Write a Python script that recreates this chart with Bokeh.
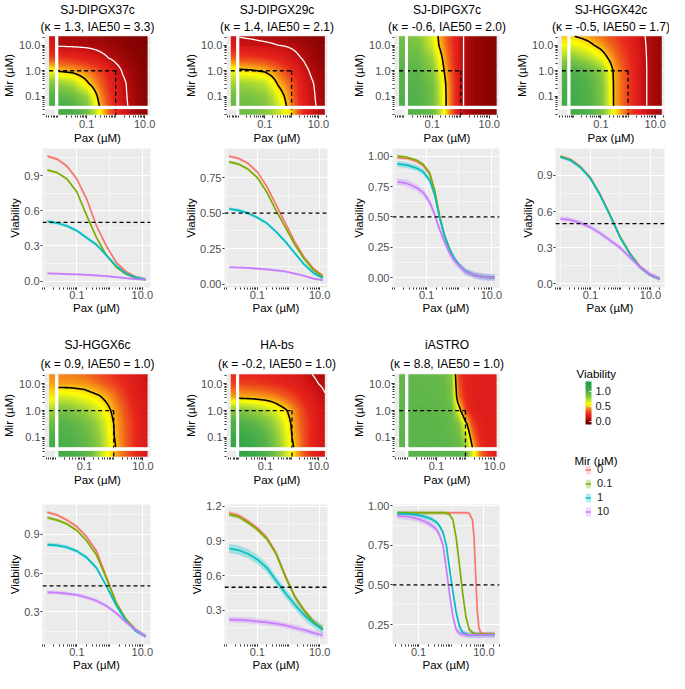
import numpy as np
from bokeh.plotting import figure
from bokeh.models import (FixedTicker, Span, Title, LinearColorMapper, ColorBar,
                          Legend, LegendItem, Label, CustomJSTickFormatter)
from bokeh.layouts import row, column
from bokeh.embed import file_html
from bokeh.resources import INLINE

# ---------------------------------------------------------------- data
cell_lines = ["SJ-DIPGX37c", "SJ-DIPGX29c", "SJ-DIPGX7c", "SJ-HGGX42c",
              "SJ-HGGX6c", "HA-bs", "iASTRO"]
kappa = [1.3, 1.4, -0.6, -0.5, 0.9, -0.2, 8.8]
iae50 = [3.3, 2.1, 2.0, 1.7, 1.0, 1.0, 1.0]
mir_levels = ["0", "0.1", "1", "10"]
ref_pax = 1.0
ref_mir = 1.0
viability_threshold = 0.5
white_level = 0.1
colorbar_ticks = [0.0, 0.5, 1.0]

# heatmap grid (log10 Pax columns, log10 Mir rows bottom->top)
hm_pax_log = [-2.0, -1.5, -1.0, -0.75, -0.5, -0.25, 0.0, 0.25, 0.5, 0.75, 1.0, 1.3]
hm_mir_log = [-1.36, -1.0, -0.5, 0.0, 0.5, 1.0, 1.36]

hm_extent = [[-1.98, 1.10], [-1.96, 1.24], [-1.85, 1.26], [-2.13, 1.24],
             [-1.90, 1.16], [-2.00, 1.24], [-1.97, 1.07]]

hm_p1 = [[1.03, 0.98, 0.84, 0.65, 0.45, 0.32, 0.21, 0.13, 0.085, 0.05, 0.03, 0.015],
         [0.95, 0.9, 0.76, 0.58, 0.41, 0.3, 0.2, 0.125, 0.08, 0.05, 0.03, 0.015],
         [0.78, 0.72, 0.53, 0.44, 0.35, 0.26, 0.18, 0.12, 0.075, 0.045, 0.028, 0.015],
         [0.49, 0.46, 0.4, 0.35, 0.29, 0.21, 0.14, 0.09, 0.06, 0.04, 0.025, 0.015],
         [0.27, 0.25, 0.2, 0.165, 0.13, 0.1, 0.075, 0.055, 0.04, 0.028, 0.018, 0.01],
         [0.085, 0.08, 0.075, 0.07, 0.063, 0.055, 0.045, 0.035, 0.025, 0.018, 0.012, 0.006],
         [0.075, 0.07, 0.062, 0.056, 0.05, 0.042, 0.035, 0.027, 0.02, 0.014, 0.01, 0.005]]
hm_pax0_p1 = [1.05, 0.97, 0.82, 0.58, 0.3, 0.15, 0.12]
hm_mir0_p1 = [1.07, 1.02, 0.88, 0.72, 0.53, 0.37, 0.25, 0.15, 0.1, 0.06, 0.035, 0.02]

hm_p2 = [[0.9, 0.88, 0.83, 0.76, 0.67, 0.53, 0.4, 0.28, 0.18, 0.125, 0.085, 0.05],
         [0.87, 0.85, 0.8, 0.72, 0.6, 0.49, 0.38, 0.26, 0.17, 0.12, 0.08, 0.05],
         [0.76, 0.74, 0.69, 0.6, 0.48, 0.41, 0.34, 0.24, 0.15, 0.11, 0.075, 0.05],
         [0.53, 0.515, 0.48, 0.43, 0.38, 0.31, 0.25, 0.18, 0.12, 0.085, 0.06, 0.04],
         [0.3, 0.29, 0.26, 0.235, 0.21, 0.175, 0.14, 0.11, 0.085, 0.06, 0.045, 0.03],
         [0.125, 0.12, 0.113, 0.108, 0.1, 0.093, 0.085, 0.073, 0.06, 0.047, 0.035, 0.025],
         [0.097, 0.09, 0.08, 0.074, 0.068, 0.061, 0.055, 0.048, 0.04, 0.034, 0.028, 0.02]]
hm_pax0_p2 = [0.92, 0.88, 0.75, 0.6, 0.35, 0.17, 0.13]
hm_mir0_p2 = [0.9, 0.88, 0.82, 0.76, 0.69, 0.6, 0.5, 0.34, 0.22, 0.15, 0.1, 0.06]

hm_p3 = [[1.0, 0.98, 0.88, 0.7, 0.49, 0.3, 0.12, 0.07, 0.045, 0.035, 0.025, 0.02],
         [1.0, 0.98, 0.88, 0.7, 0.49, 0.3, 0.12, 0.07, 0.045, 0.035, 0.025, 0.02],
         [0.98, 0.96, 0.86, 0.68, 0.48, 0.29, 0.12, 0.07, 0.045, 0.035, 0.025, 0.02],
         [0.96, 0.94, 0.82, 0.63, 0.44, 0.28, 0.12, 0.07, 0.045, 0.035, 0.025, 0.02],
         [0.92, 0.9, 0.76, 0.57, 0.4, 0.26, 0.12, 0.07, 0.045, 0.035, 0.025, 0.02],
         [0.88, 0.85, 0.66, 0.49, 0.37, 0.25, 0.12, 0.07, 0.045, 0.035, 0.025, 0.02],
         [0.85, 0.82, 0.64, 0.47, 0.35, 0.24, 0.12, 0.07, 0.045, 0.035, 0.025, 0.02]]
hm_pax0_p3 = [1.0, 1.0, 0.98, 0.97, 0.93, 0.9, 0.88]
hm_mir0_p3 = [1.0, 0.98, 0.9, 0.72, 0.5, 0.3, 0.12, 0.07, 0.045, 0.035, 0.025, 0.02]

hm_p4 = [[1.06, 1.0, 0.86, 0.68, 0.47, 0.38, 0.3, 0.22, 0.13, 0.09, 0.06, 0.045],
         [1.05, 0.99, 0.85, 0.67, 0.47, 0.38, 0.3, 0.22, 0.13, 0.09, 0.06, 0.045],
         [1.04, 0.98, 0.84, 0.66, 0.47, 0.38, 0.3, 0.22, 0.13, 0.09, 0.06, 0.045],
         [1.0, 0.93, 0.8, 0.64, 0.46, 0.37, 0.29, 0.21, 0.13, 0.09, 0.06, 0.045],
         [0.8, 0.72, 0.6, 0.5, 0.4, 0.33, 0.27, 0.2, 0.125, 0.09, 0.06, 0.045],
         [0.62, 0.55, 0.45, 0.39, 0.34, 0.29, 0.24, 0.18, 0.12, 0.088, 0.06, 0.045],
         [0.5, 0.45, 0.38, 0.34, 0.3, 0.26, 0.22, 0.17, 0.115, 0.085, 0.06, 0.045]]
hm_pax0_p4 = [1.06, 1.05, 1.02, 0.95, 0.75, 0.58, 0.5]
hm_mir0_p4 = [1.06, 1.0, 0.88, 0.72, 0.55, 0.44, 0.33, 0.25, 0.18, 0.12, 0.08, 0.05]

hm_p5 = [[1.04, 1.01, 0.94, 0.88, 0.8, 0.68, 0.53, 0.42, 0.33, 0.25, 0.19, 0.14],
         [1.02, 0.99, 0.92, 0.86, 0.78, 0.66, 0.51, 0.41, 0.33, 0.25, 0.19, 0.14],
         [0.98, 0.95, 0.88, 0.82, 0.74, 0.63, 0.5, 0.4, 0.32, 0.25, 0.19, 0.14],
         [0.88, 0.84, 0.76, 0.71, 0.64, 0.56, 0.46, 0.38, 0.3, 0.23, 0.18, 0.14],
         [0.66, 0.64, 0.59, 0.555, 0.52, 0.46, 0.4, 0.33, 0.26, 0.21, 0.17, 0.13],
         [0.44, 0.44, 0.43, 0.4, 0.37, 0.335, 0.3, 0.26, 0.22, 0.185, 0.15, 0.12],
         [0.41, 0.4, 0.37, 0.345, 0.32, 0.29, 0.26, 0.23, 0.2, 0.17, 0.14, 0.11]]
hm_pax0_p5 = [1.05, 1.02, 0.9, 0.75, 0.55, 0.45, 0.42]
hm_mir0_p5 = [1.06, 1.03, 0.96, 0.88, 0.72, 0.6, 0.48, 0.4, 0.33, 0.25, 0.19, 0.14]

hm_p6 = [[1.13, 1.08, 0.98, 0.89, 0.78, 0.66, 0.53, 0.41, 0.31, 0.23, 0.17, 0.13],
         [1.1, 1.05, 0.95, 0.86, 0.76, 0.64, 0.5, 0.4, 0.31, 0.23, 0.17, 0.13],
         [1.0, 0.95, 0.86, 0.79, 0.7, 0.6, 0.48, 0.38, 0.3, 0.23, 0.17, 0.13],
         [0.82, 0.78, 0.7, 0.65, 0.58, 0.52, 0.44, 0.36, 0.28, 0.21, 0.16, 0.12],
         [0.47, 0.46, 0.44, 0.42, 0.39, 0.35, 0.31, 0.26, 0.21, 0.165, 0.13, 0.1],
         [0.3, 0.29, 0.27, 0.255, 0.24, 0.22, 0.2, 0.175, 0.15, 0.125, 0.1, 0.085],
         [0.24, 0.235, 0.22, 0.21, 0.2, 0.185, 0.17, 0.15, 0.12, 0.1, 0.08, 0.07]]
hm_pax0_p6 = [1.12, 1.08, 1.0, 0.8, 0.45, 0.3, 0.25]
hm_mir0_p6 = [1.15, 1.1, 1.0, 0.9, 0.8, 0.68, 0.55, 0.43, 0.32, 0.24, 0.18, 0.13]

hm_p7 = [[0.955, 0.955, 0.95, 0.95, 0.94, 0.92, 0.8, 0.48, 0.27, 0.21, 0.19, 0.19],
         [0.95, 0.95, 0.95, 0.945, 0.935, 0.9, 0.7, 0.4, 0.24, 0.2, 0.19, 0.19],
         [0.95, 0.95, 0.945, 0.94, 0.92, 0.85, 0.55, 0.3, 0.21, 0.19, 0.19, 0.19],
         [0.945, 0.945, 0.94, 0.93, 0.9, 0.6, 0.3, 0.21, 0.19, 0.19, 0.19, 0.19],
         [0.94, 0.94, 0.93, 0.92, 0.86, 0.4, 0.24, 0.2, 0.19, 0.19, 0.19, 0.19],
         [0.935, 0.935, 0.925, 0.91, 0.84, 0.34, 0.23, 0.2, 0.19, 0.19, 0.19, 0.19],
         [0.93, 0.93, 0.92, 0.9, 0.82, 0.3, 0.22, 0.2, 0.19, 0.19, 0.19, 0.19]]
hm_pax0_p7 = [0.955, 0.955, 0.95, 0.945, 0.94, 0.935, 0.93]
hm_mir0_p7 = [0.955, 0.955, 0.955, 0.955, 0.955, 0.955, 0.9, 0.62, 0.4, 0.28, 0.2, 0.19]

# dose-response curves (log10 Pax, viability per Mir level)
pax_grid_a = [-1.9, -1.6, -1.3, -1.0, -0.7, -0.4, -0.1, 0.2, 0.5, 0.8, 1.1]

p1_mir0 = [1.065, 1.04, 0.98, 0.87, 0.7, 0.47, 0.3, 0.16, 0.08, 0.035, 0.015]
p1_mir01 = [0.947, 0.925, 0.87, 0.76, 0.56, 0.37, 0.22, 0.12, 0.06, 0.028, 0.012]
p1_mir1 = [0.51, 0.495, 0.47, 0.43, 0.37, 0.31, 0.22, 0.13, 0.065, 0.03, 0.014]
p1_mir10 = [0.065, 0.063, 0.06, 0.057, 0.053, 0.048, 0.042, 0.034, 0.025, 0.017, 0.012]
p1_band = [0.012, 0.01, 0.015, 0.008]

p2_mir0 = [0.90, 0.885, 0.85, 0.79, 0.69, 0.56, 0.43, 0.30, 0.19, 0.11, 0.06]
p2_mir01 = [0.86, 0.845, 0.81, 0.75, 0.65, 0.52, 0.40, 0.28, 0.18, 0.10, 0.055]
p2_mir1 = [0.53, 0.52, 0.50, 0.47, 0.43, 0.37, 0.30, 0.22, 0.14, 0.08, 0.045]
p2_mir10 = [0.12, 0.118, 0.115, 0.11, 0.105, 0.098, 0.09, 0.075, 0.06, 0.04, 0.03]
p2_band = [0.01, 0.01, 0.012, 0.008]

p3_pax = [-1.9, -1.6, -1.3, -1.1, -0.9, -0.75, -0.6, -0.45, -0.3, -0.15, 0.0, 0.2, 0.5, 0.8, 1.1]
p3_mir0 = [0.985, 0.98, 0.955, 0.92, 0.85, 0.71, 0.5, 0.35, 0.24, 0.16, 0.105, 0.055, 0.02, 0.007, 0.003]
p3_mir01 = [1.0, 0.99, 0.965, 0.93, 0.86, 0.72, 0.51, 0.35, 0.24, 0.16, 0.105, 0.055, 0.02, 0.007, 0.003]
p3_mir1 = [0.935, 0.925, 0.9, 0.87, 0.8, 0.68, 0.5, 0.35, 0.24, 0.16, 0.105, 0.055, 0.02, 0.007, 0.003]
p3_mir10 = [0.79, 0.775, 0.74, 0.7, 0.62, 0.52, 0.4, 0.3, 0.21, 0.145, 0.1, 0.05, 0.02, 0.007, 0.003]
p3_band = [0.01, 0.01, 0.025, 0.03]

p4_pax = [-2.0, -1.67, -1.34, -1.01, -0.68, -0.35, -0.02, 0.31, 0.64, 0.97, 1.3]
p4_mir0 = [1.06, 1.035, 0.975, 0.885, 0.745, 0.575, 0.395, 0.255, 0.145, 0.078, 0.042]
p4_mir01 = [1.057, 1.03, 0.97, 0.88, 0.74, 0.57, 0.39, 0.25, 0.14, 0.075, 0.04]
p4_mir1 = [1.054, 1.027, 0.967, 0.877, 0.737, 0.567, 0.387, 0.247, 0.138, 0.074, 0.04]
p4_mir10 = [0.54, 0.53, 0.505, 0.47, 0.42, 0.36, 0.3, 0.22, 0.14, 0.08, 0.04]
p4_band = [0.012, 0.012, 0.012, 0.02]

p5_mir0 = [1.07, 1.05, 1.01, 0.96, 0.88, 0.77, 0.57, 0.37, 0.24, 0.16, 0.11]
p5_mir01 = [1.03, 1.01, 0.98, 0.93, 0.85, 0.74, 0.56, 0.37, 0.24, 0.16, 0.11]
p5_mir1 = [0.82, 0.815, 0.8, 0.77, 0.72, 0.64, 0.5, 0.35, 0.23, 0.15, 0.11]
p5_mir10 = [0.45, 0.448, 0.44, 0.43, 0.41, 0.385, 0.345, 0.29, 0.22, 0.16, 0.11]
p5_band = [0.012, 0.012, 0.015, 0.015]

p6_mir0 = [1.14, 1.12, 1.07, 1.01, 0.93, 0.8, 0.6, 0.42, 0.3, 0.2, 0.14]
p6_mir01 = [1.13, 1.11, 1.06, 1.0, 0.92, 0.79, 0.59, 0.42, 0.3, 0.2, 0.14]
p6_mir1 = [0.835, 0.82, 0.79, 0.74, 0.67, 0.56, 0.45, 0.35, 0.26, 0.19, 0.135]
p6_mir10 = [0.22, 0.218, 0.213, 0.205, 0.196, 0.185, 0.17, 0.15, 0.13, 0.105, 0.085]
p6_band = [0.02, 0.02, 0.04, 0.025]

p7_pax = [-1.65, -1.3, -1.0, -0.8, -0.6, -0.45, -0.35, -0.25, -0.15, -0.05, 0.05, 0.15,
          0.25, 0.35, 0.45, 0.55, 0.65, 0.7, 0.75, 0.8, 0.85, 0.9, 1.0, 1.15, 1.33]
p7_mir0 = [0.955, 0.955, 0.955, 0.955, 0.955, 0.955, 0.955, 0.955, 0.955, 0.955, 0.955, 0.955,
           0.955, 0.955, 0.955, 0.952, 0.91, 0.8, 0.56, 0.33, 0.23, 0.2, 0.19, 0.19, 0.19]
p7_mir01 = [0.955, 0.955, 0.955, 0.955, 0.955, 0.955, 0.955, 0.955, 0.953, 0.945, 0.91, 0.8,
            0.63, 0.45, 0.3, 0.22, 0.2, 0.195, 0.19, 0.19, 0.19, 0.19, 0.19, 0.19, 0.19]
p7_mir1 = [0.95, 0.948, 0.94, 0.93, 0.915, 0.895, 0.87, 0.83, 0.75, 0.6, 0.46, 0.33,
           0.24, 0.2, 0.19, 0.185, 0.185, 0.185, 0.185, 0.185, 0.185, 0.185, 0.185, 0.185, 0.185]
p7_mir10 = [0.935, 0.93, 0.915, 0.9, 0.875, 0.85, 0.81, 0.75, 0.6, 0.44, 0.3, 0.22,
            0.195, 0.19, 0.185, 0.185, 0.185, 0.185, 0.185, 0.185, 0.185, 0.185, 0.185, 0.185, 0.185]
p7_band = [0.01, 0.012, 0.015, 0.02]

y_ticks = [[0.0, 0.3, 0.6, 0.9], [0.0, 0.25, 0.5, 0.75], [0.0, 0.25, 0.5, 0.75, 1.0],
           [0.0, 0.3, 0.6, 0.9], [0.3, 0.6, 0.9], [0.3, 0.6, 0.9, 1.2], [0.25, 0.5, 0.75, 1.0]]
y_decimals = [1, 2, 2, 1, 1, 1, 2]

panels = [
    dict(hm=hm_p1, pax0=hm_pax0_p1, mir0=hm_mir0_p1, cv_pax=pax_grid_a,
         cv=[p1_mir0, p1_mir01, p1_mir1, p1_mir10], band=p1_band),
    dict(hm=hm_p2, pax0=hm_pax0_p2, mir0=hm_mir0_p2, cv_pax=pax_grid_a,
         cv=[p2_mir0, p2_mir01, p2_mir1, p2_mir10], band=p2_band),
    dict(hm=hm_p3, pax0=hm_pax0_p3, mir0=hm_mir0_p3, cv_pax=p3_pax,
         cv=[p3_mir0, p3_mir01, p3_mir1, p3_mir10], band=p3_band),
    dict(hm=hm_p4, pax0=hm_pax0_p4, mir0=hm_mir0_p4, cv_pax=p4_pax,
         cv=[p4_mir0, p4_mir01, p4_mir1, p4_mir10], band=p4_band),
    dict(hm=hm_p5, pax0=hm_pax0_p5, mir0=hm_mir0_p5, cv_pax=pax_grid_a,
         cv=[p5_mir0, p5_mir01, p5_mir1, p5_mir10], band=p5_band),
    dict(hm=hm_p6, pax0=hm_pax0_p6, mir0=hm_mir0_p6, cv_pax=pax_grid_a,
         cv=[p6_mir0, p6_mir01, p6_mir1, p6_mir10], band=p6_band),
    dict(hm=hm_p7, pax0=hm_pax0_p7, mir0=hm_mir0_p7, cv_pax=p7_pax,
         cv=[p7_mir0, p7_mir01, p7_mir1, p7_mir10], band=p7_band),
]

# ---------------------------------------------------------------- style
FONT = "Liberation Sans"
PANEL_BG = "#EBEBEB"
TICK_COLOR = "#333333"
TICKLABEL_COLOR = "#4D4D4D"
CURVE_COLORS = ["#F8766D", "#7CAE00", "#00BFC4", "#C77CFF"]
CB_LOW, CB_HIGH = -0.1, 1.32
COLOR_STOPS = [(-0.1, "#5a0000"), (0.0, "#7a0000"), (0.08, "#b00c0c"), (0.15, "#d81818"),
               (0.25, "#e8281c"), (0.35, "#f05a1c"), (0.45, "#f8a016"), (0.52, "#fcd80c"),
               (0.58, "#ffff00"), (0.68, "#c8e62a"), (0.8, "#8ccb3e"), (0.95, "#5cb54a"),
               (1.1, "#38a848"), (1.32, "#1a9a46")]

COL_W = [182, 168, 163, 156]
COL_R = [32, 23, 14, 5]
LEFT = 42


def make_palette(n=256):
    sv = [s[0] for s in COLOR_STOPS]
    rgb = np.array([[int(c[i:i + 2], 16) for i in (1, 3, 5)] for _, c in COLOR_STOPS], float)
    out = []
    for v in np.linspace(CB_LOW, CB_HIGH, n):
        r, g, b = (np.interp(v, sv, rgb[:, k]) for k in range(3))
        out.append("#%02x%02x%02x" % (int(round(r)), int(round(g)), int(round(b))))
    return out


mapper = LinearColorMapper(palette=make_palette(), low=CB_LOW, high=CB_HIGH)
pow10_fmt = "return Math.pow(10, tick).toFixed(1);"


def log_minor(lo, hi):
    out = []
    for d in range(-3, 3):
        for k in range(1, 10):
            v = float(np.log10(k * 10.0 ** d))
            if lo <= v <= hi:
                out.append(v)
    return out


def upsample(gx, gy, Z, xs, ys):
    Z = np.asarray(Z, float)
    tmp = np.array([np.interp(xs, gx, r) for r in Z])
    return np.array([np.interp(ys, gy, tmp[:, j]) for j in range(len(xs))]).T


def style_axes(p, label_standoff=1, tick_out=3, title_standoff=1):
    for ax in (p.xaxis[0], p.yaxis[0]):
        ax.axis_line_color = None
        ax.major_tick_line_color = TICK_COLOR
        ax.minor_tick_line_color = TICK_COLOR
        ax.major_tick_out = tick_out
        ax.major_tick_in = 0
        ax.minor_tick_out = 2
        ax.minor_tick_in = 0
        ax.major_label_text_font = FONT
        ax.major_label_text_font_size = "11px"
        ax.major_label_text_color = TICKLABEL_COLOR
        ax.axis_label_text_font = FONT
        ax.axis_label_text_font_size = "11.5px"
        ax.axis_label_text_font_style = "normal"
        ax.axis_label_text_color = "black"
        ax.major_label_standoff = label_standoff
        ax.axis_label_standoff = title_standoff
    for g in (p.xgrid[0], p.ygrid[0]):
        g.grid_line_color = "white"
        g.grid_line_width = 1.1
        g.minor_grid_line_color = "white"
        g.minor_grid_line_width = 0.5


def base_fig(width, height, xr, yr, right, top, bottom):
    p = figure(width=width, height=height, x_range=xr, y_range=yr, title=None,
               output_backend="svg", toolbar_location=None,
               min_border_left=LEFT, min_border_right=right,
               min_border_top=top, min_border_bottom=bottom)
    p.background_fill_color = PANEL_BG
    p.border_fill_color = "white"
    p.outline_line_color = None
    return p


def make_heatmap(i, col, height, top, bottom, title_gap):
    P = panels[i]
    lo, hi = hm_extent[i]
    strip_l, strip_r = lo - 0.31, lo - 0.10
    y_lo, y_hi = -1.37, 1.35
    xr, yr = (lo - 0.47, hi + 0.10), (-1.75, 1.38)
    p = base_fig(COL_W[col], height, xr, yr, COL_R[col], top, bottom)
    style_axes(p)
    p.xaxis.axis_label = "Pax (µM)"
    p.yaxis.axis_label = "Mir (µM)"
    p.xaxis.ticker = FixedTicker(ticks=[-1, 1], minor_ticks=log_minor(*xr))
    p.yaxis.ticker = FixedTicker(ticks=[-1, 0, 1], minor_ticks=log_minor(*yr))
    p.xaxis.formatter = CustomJSTickFormatter(code=pow10_fmt)
    p.yaxis.formatter = CustomJSTickFormatter(code=pow10_fmt)
    p.xgrid[0].ticker = FixedTicker(ticks=[-1, 1], minor_ticks=[-2, 0])
    p.ygrid[0].ticker = FixedTicker(ticks=[-1, 0, 1], minor_ticks=[-1.5, -0.5, 0.5])

    xs = np.linspace(lo, hi, 150)
    ys = np.linspace(y_lo, y_hi, 110)
    Zf = upsample(hm_pax_log, hm_mir_log, P["hm"], xs, ys)
    p.image(image=[Zf], x=lo, y=y_lo, dw=hi - lo, dh=y_hi - y_lo, color_mapper=mapper)
    left_col = np.interp(ys, hm_mir_log, P["pax0"]).reshape(-1, 1)
    p.image(image=[left_col], x=strip_l, y=y_lo, dw=strip_r - strip_l, dh=y_hi - y_lo,
            color_mapper=mapper)
    bottom_row = np.interp(xs, hm_pax_log, P["mir0"]).reshape(1, -1)
    p.image(image=[bottom_row], x=lo, y=-1.72, dw=hi - lo, dh=0.22, color_mapper=mapper)

    if Zf.min() < white_level < Zf.max():
        p.contour(x=xs, y=ys, z=Zf, levels=[white_level], line_color="white", line_width=1.3)
    if Zf.min() < viability_threshold < Zf.max():
        p.contour(x=xs, y=ys, z=Zf, levels=[viability_threshold], line_color="black",
                  line_width=1.6)

    p.add_layout(Span(location=lo - 0.05, dimension="height", line_color="white", line_width=3))
    p.add_layout(Span(location=-1.435, dimension="width", line_color="white", line_width=3))

    rx, ry = float(np.log10(ref_pax)), float(np.log10(ref_mir))
    p.segment(x0=[strip_l], y0=[ry], x1=[rx], y1=[ry], line_color="black",
              line_dash="4 3", line_width=1.3)
    p.segment(x0=[rx], y0=[ry], x1=[rx], y1=[yr[0]], line_color="black",
              line_dash="4 3", line_width=1.3)

    t2 = Title(text="(κ = %.1f, IAE50 = %.1f)" % (kappa[i], iae50[i]), align="center",
               text_font=FONT, text_font_size="12px", text_font_style="normal",
               text_color="black", standoff=title_gap)
    t1 = Title(text=cell_lines[i], align="center", text_font=FONT, text_font_size="12px",
               text_font_style="normal", text_color="black", standoff=0)
    p.add_layout(t2, "above")
    p.add_layout(t1, "above")
    return p


def make_curve(i, col, height, top, bottom):
    P = panels[i]
    xs = np.array(P["cv_pax"], float)
    series = [np.array(s, float) for s in P["cv"]]
    bands = P["band"]
    ylo = min(float((s - b).min()) for s, b in zip(series, bands))
    yhi = max(float((s + b).max()) for s, b in zip(series, bands))
    ypad = 0.05 * (yhi - ylo)
    xpad = 0.05 * (xs.max() - xs.min())
    xr = (float(xs.min() - xpad), float(xs.max() + xpad))
    yr = (ylo - ypad, yhi + ypad)
    p = base_fig(COL_W[col], height, xr, yr, COL_R[col], top, bottom)
    style_axes(p, label_standoff=1, tick_out=2, title_standoff=0)
    p.xaxis.axis_label = "Pax (µM)"
    p.yaxis.axis_label = "Viability"
    p.xaxis.ticker = FixedTicker(ticks=[-1, 1], minor_ticks=log_minor(*xr))
    p.xaxis.formatter = CustomJSTickFormatter(code=pow10_fmt)
    yt = y_ticks[i]
    step = yt[1] - yt[0]
    p.yaxis.ticker = FixedTicker(ticks=yt)
    p.yaxis.formatter = CustomJSTickFormatter(code="return tick.toFixed(%d);" % y_decimals[i])
    p.yaxis.minor_tick_line_color = None
    p.xgrid[0].ticker = FixedTicker(ticks=[-1, 1], minor_ticks=[-2, 0])
    p.ygrid[0].ticker = FixedTicker(ticks=yt, minor_ticks=[yt[0] - step / 2] + [t + step / 2 for t in yt])

    for s, b, c in zip(series, bands, CURVE_COLORS):
        p.varea(x=xs, y1=s - b, y2=s + b, fill_color=c, fill_alpha=0.3)
    for s, c in zip(series, CURVE_COLORS):
        p.line(x=xs, y=s, line_color=c, line_width=1.7)
    p.add_layout(Span(location=viability_threshold, dimension="width", line_color="black",
                      line_dash="4 3", line_width=1.3))
    return p


# ---------------------------------------------------------------- legend figure
def make_legend_fig(width, height):
    p = figure(width=width, height=height, x_range=(0, 1), y_range=(0, 1), title=None,
               x_axis_type=None, y_axis_type=None, output_backend="svg",
               toolbar_location=None, min_border=0)
    p.outline_line_color = None
    p.background_fill_color = "white"
    p.border_fill_color = "white"

    p.add_layout(Label(x=63, y=300, x_units="screen", y_units="screen", text="Viability",
                       text_font=FONT, text_font_size="11.5px", text_color="black",
                       text_baseline="middle", text_align="left"))
    cb = ColorBar(color_mapper=mapper, ticker=FixedTicker(ticks=colorbar_ticks),
                  formatter=CustomJSTickFormatter(code="return tick.toFixed(1);"),
                  width=6, height=43, location=(72, 249), orientation="vertical",
                  padding=0, margin=0, bar_line_color=None,
                  major_tick_line_color="white", major_tick_in=2, major_tick_out=0,
                  minor_tick_line_color=None, label_standoff=4,
                  major_label_text_font=FONT, major_label_text_font_size="11px",
                  major_label_text_color="#1a1a1a",
                  background_fill_alpha=0, border_line_color=None)
    p.add_layout(cb)

    p.add_layout(Label(x=61, y=213, x_units="screen", y_units="screen", text="Mir (µM)",
                       text_font=FONT, text_font_size="11.5px", text_color="black",
                       text_baseline="middle", text_align="left"))
    items = []
    nan = float("nan")
    for lab, c in zip(mir_levels, CURVE_COLORS):
        rq = p.quad(left=[nan], right=[nan], top=[nan], bottom=[nan], fill_color=c,
                    fill_alpha=0.3, line_color=None)
        rl = p.line(x=[nan, nan], y=[nan, nan], line_color=c, line_width=1.5)
        items.append(LegendItem(label=lab, renderers=[rq, rl]))
    leg = Legend(items=items, location=(72, 156), glyph_width=6, glyph_height=11,
                 label_height=11, spacing=2, padding=0, margin=0, label_standoff=6,
                 label_text_font=FONT, label_text_font_size="11px",
                 label_text_color="#1a1a1a", border_line_color=None,
                 background_fill_alpha=0)
    p.add_layout(leg)
    return p


# ---------------------------------------------------------------- layout
H_A, H_B, H_C, H_D = 146, 170, 173, 184
rowA = row(*[make_heatmap(i, i, H_A, 32, 31, 3) for i in range(4)])
rowB = row(*[make_curve(i, i, H_B, 2, 29) for i in range(4)])
rowC = row(*[make_heatmap(4 + j, j, H_C, 57, 32, 6) for j in range(3)])
rowD = row(*[make_curve(4 + j, j, H_D, 15, 29) for j in range(3)])
legend_fig = make_legend_fig(COL_W[3], H_C + H_D)
layout = column(rowA, rowB, row(column(rowC, rowD), legend_fig))

open("out.html", "w").write(file_html(layout, INLINE))
